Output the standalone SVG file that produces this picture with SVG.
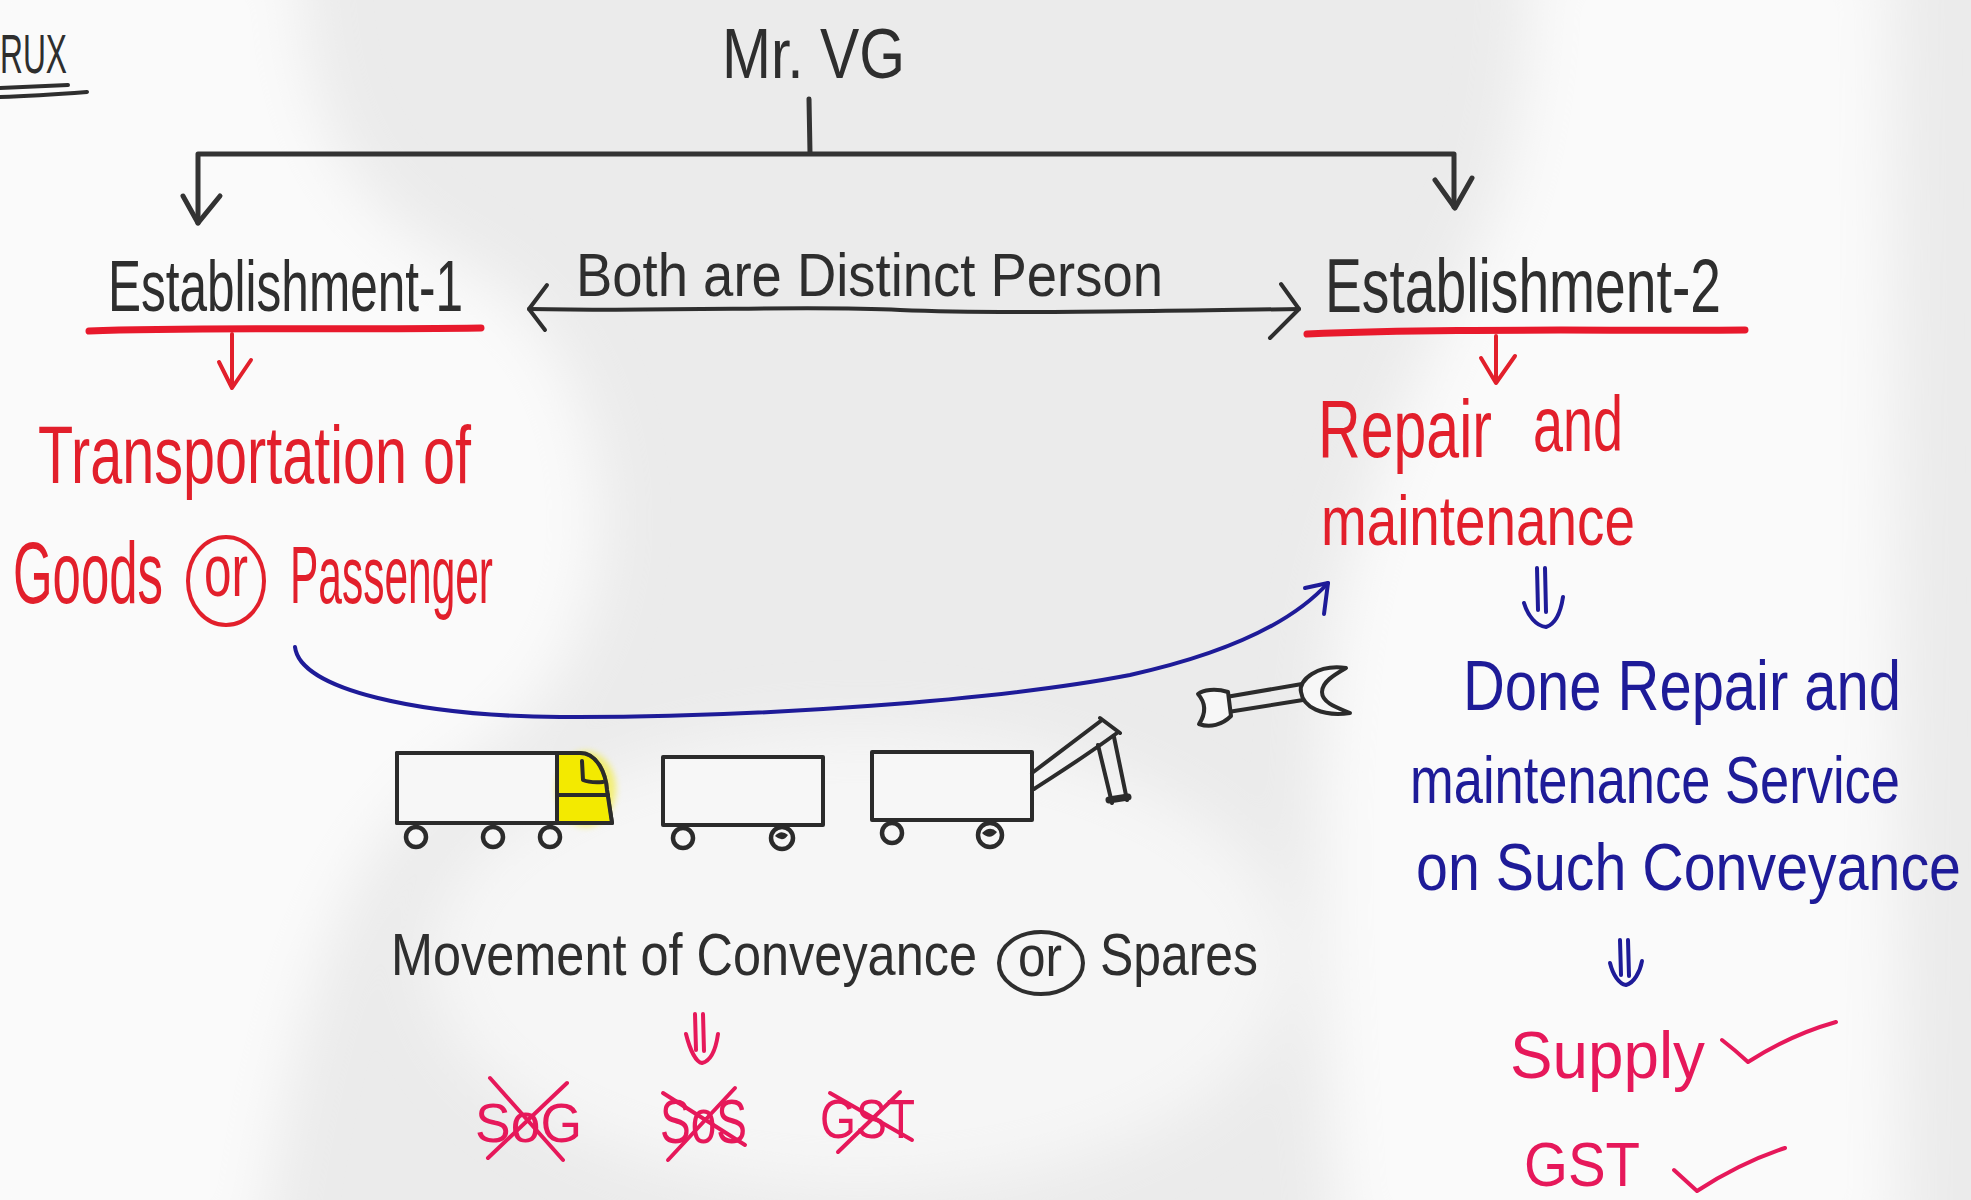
<svg xmlns="http://www.w3.org/2000/svg" width="1971" height="1200" viewBox="0 0 1971 1200">
  <defs>
    <filter id="soft" x="-20%" y="-20%" width="140%" height="140%">
      <feGaussianBlur stdDeviation="30"/>
    </filter>
    <filter id="glow" x="-30%" y="-30%" width="160%" height="160%">
      <feGaussianBlur stdDeviation="3"/>
    </filter>
    <style>
      text { font-family: 'Liberation Sans', Arial, sans-serif; }
      .ink { fill: #2e2e2e; }
      .red { fill: #e21f2b; }
      .pink { fill: #e6185a; }
      .blue { fill: #1e1b98; }
      .line { fill: none; stroke: #333333; stroke-width: 5; stroke-linecap: round; stroke-linejoin: round; }
      .thin { fill: none; stroke: #2e2e2e; stroke-width: 4; stroke-linecap: round; stroke-linejoin: round; }
      .rline { fill: none; stroke: #e21f2b; stroke-width: 4; stroke-linecap: round; stroke-linejoin: round; }
      .uline { fill: none; stroke: #e8192c; stroke-width: 7; stroke-linecap: round; }
      .pline { fill: none; stroke: #e6185a; stroke-width: 4; stroke-linecap: round; stroke-linejoin: round; }
      .bline { fill: none; stroke: #1e1b98; stroke-width: 4; stroke-linecap: round; stroke-linejoin: round; }
      .draw { fill: none; stroke: #2b2b2b; stroke-width: 4; stroke-linecap: round; stroke-linejoin: round; }
      .box { fill: #f7f7f7; stroke: #2b2b2b; stroke-width: 4; stroke-linejoin: round; }
      .wheel { fill: #f7f7f7; stroke: #2b2b2b; stroke-width: 4.5; }
    </style>
  </defs>

  <!-- soft backdrop -->
  <g id="backdrop">
    <rect width="1971" height="1200" fill="#ebebeb"/>
    <g filter="url(#soft)" fill="#fafafa">
      <path d="M-60,-60 L300,-60 C300,100 330,200 470,270 C560,320 600,420 600,520 C600,620 560,700 470,760 C360,830 300,950 260,1260 L-60,1260 Z"/>
      <path d="M1530,-60 L1890,-60 L1900,1260 L1340,1260 C1320,1000 1310,760 1340,600 C1370,460 1440,330 1500,200 C1520,120 1530,60 1530,-60 Z"/>
      <ellipse cx="860" cy="960" rx="430" ry="230" opacity="0.75"/>
    </g>
  </g>

  <!-- connectors -->
  <g id="connectors">
    <!-- Mr. VG branches to both establishments -->
    <path class="line" d="M809,99 L810,153"/>
    <path class="line" d="M198,223 L198,154 L1454,154 L1454,207"/>
    <path class="line" d="M183,196 L198,223 L220,196"/>
    <path class="line" d="M1435,180 L1455,208 L1472,178"/>
    <!-- distinct persons, two-way -->
    <path class="thin" d="M529,309 C700,312 800,305 900,310 C1000,314 1150,311 1299,309"/>
    <path class="thin" d="M547,285 L529,309 L545,330"/>
    <path class="thin" d="M1281,284 L1299,309 L1270,338"/>
    <!-- red underlines and drops -->
    <path class="uline" d="M89,331 C200,327 350,330 481,328"/>
    <path class="uline" d="M1307,334 C1450,328 1600,331 1745,330"/>
    <path class="rline" d="M232,334 L232,386"/>
    <path class="rline" d="M219,362 L232,388 L251,360"/>
    <path class="rline" d="M1496,336 L1496,381"/>
    <path class="rline" d="M1481,358 L1496,383 L1515,356"/>
    <!-- blue sweep from transport to repair -->
    <path class="bline" d="M295,647 C300,690 420,716 560,717 C760,718 1000,700 1130,675 C1220,655 1290,625 1328,583"/>
    <path class="bline" d="M1305,588 L1328,583 L1324,614"/>
    <!-- double-stroke down arrows -->
    <path class="bline" d="M1537,568 L1538,610 M1545,568 L1546,612 M1524,603 C1528,616 1536,626 1546,627 C1556,624 1561,610 1563,597"/>
    <path class="bline" d="M1620,940 L1621,975 M1628,940 L1629,976 M1610,963 C1613,975 1619,984 1626,985 C1634,983 1640,972 1642,961"/>
    <path class="pline" d="M695,1014 L696,1050 M703,1014 L704,1051 M686,1034 C690,1050 696,1062 702,1063 C711,1061 716,1048 718,1034"/>
  </g>

  <!-- heading fragment -->
  <g id="crux">
    <text class="ink" transform="translate(0,73) scale(1,1.74)" font-size="32" textLength="67" lengthAdjust="spacingAndGlyphs">RUX</text>
    <path class="thin" d="M0,88 C25,87 50,86 68,85 M0,97 C30,96 60,94 87,92"/>
  </g>

  <g id="mr-vg">
    <text class="ink" transform="translate(722,78) scale(1,1.21)" font-size="57.8" textLength="183" lengthAdjust="spacingAndGlyphs">Mr. VG</text>
  </g>

  <g id="establishment-1">
    <text class="ink" transform="translate(108,311) scale(1,1.46)" font-size="49.5" textLength="355" lengthAdjust="spacingAndGlyphs">Establishment-1</text>
  </g>

  <g id="distinct-label">
    <text class="ink" transform="translate(576,296) scale(1,1.12)" font-size="54.4" textLength="587" lengthAdjust="spacingAndGlyphs">Both are Distinct Person</text>
  </g>

  <g id="establishment-2">
    <text class="ink" transform="translate(1325,312) scale(1,1.39)" font-size="55.2" textLength="396" lengthAdjust="spacingAndGlyphs">Establishment-2</text>
  </g>

  <g id="transport">
    <text class="red" transform="translate(38,483) scale(1,1.42)" font-size="57.3" textLength="433" lengthAdjust="spacingAndGlyphs">Transportation of</text>
    <text class="red" transform="translate(13,603) scale(1,1.7)" font-size="50.9" textLength="150" lengthAdjust="spacingAndGlyphs">Goods</text>
    <ellipse class="rline" cx="226" cy="581" rx="38" ry="44"/>
    <text class="red" transform="translate(226,596) scale(1,1.5)" font-size="49.5" text-anchor="middle" textLength="44" lengthAdjust="spacingAndGlyphs">or</text>
    <text class="red" transform="translate(290,603) scale(1,1.9)" font-size="42.5" textLength="203" lengthAdjust="spacingAndGlyphs">Passenger</text>
  </g>

  <g id="repair">
    <text class="red" transform="translate(1318,457) scale(1,1.39)" font-size="59.1" textLength="174" lengthAdjust="spacingAndGlyphs">Repair</text>
    <text class="red" transform="translate(1533,451) scale(1,1.45)" font-size="54" textLength="90" lengthAdjust="spacingAndGlyphs">and</text>
    <text class="red" transform="translate(1321,545) scale(1,1.3)" font-size="54.8" textLength="314" lengthAdjust="spacingAndGlyphs">maintenance</text>
  </g>

  <g id="done-repair">
    <text class="blue" transform="translate(1463,710) scale(1,1.2)" font-size="57.9" textLength="438" lengthAdjust="spacingAndGlyphs">Done Repair and</text>
    <text class="blue" transform="translate(1410,803) scale(1,1.28)" font-size="52.5" textLength="490" lengthAdjust="spacingAndGlyphs">maintenance Service</text>
    <text class="blue" transform="translate(1416,890) scale(1,1.15)" font-size="57.3" textLength="545" lengthAdjust="spacingAndGlyphs">on Such Conveyance</text>
  </g>

  <g id="supply">
    <text class="pink" transform="translate(1510,1078) scale(1,1.05)" font-size="63.8" textLength="195" lengthAdjust="spacingAndGlyphs">Supply</text>
    <path class="pline" d="M1722,1040 Q1735,1050 1748,1062 Q1790,1035 1836,1022"/>
  </g>

  <g id="gst">
    <text class="pink" transform="translate(1524,1186) scale(1,1.1)" font-size="56.4" textLength="116" lengthAdjust="spacingAndGlyphs">GST</text>
    <path class="pline" d="M1674,1170 L1697,1191 Q1740,1163 1785,1148"/>
  </g>

  <!-- vehicles -->
  <g id="vehicles">
    <path class="box" d="M397,753 L580,753 C598,753 606,775 607,790 L612,823 L397,823 Z"/>
    <ellipse cx="586" cy="789" rx="30" ry="38" fill="#f3ea00" opacity="0.5" filter="url(#glow)"/>
    <path d="M557,755 L580,755 C597,755 604,775 605,790 L610,821 L557,821 Z" fill="#f3ea00"/>
    <path class="draw" d="M397,753 L580,753 C598,753 606,775 607,790 L612,823 L397,823 Z"/>
    <path class="draw" d="M557,754 L557,822 M557,795 L608,795 M582,761 L583,780 Q590,783 603,782"/>
    <circle class="wheel" cx="416" cy="837" r="10"/>
    <circle class="wheel" cx="493" cy="837" r="10"/>
    <circle class="wheel" cx="550" cy="837" r="10"/>

    <rect class="box" x="663" y="757" width="160" height="68"/>
    <circle class="wheel" cx="683" cy="838" r="10"/>
    <circle class="wheel" cx="782" cy="838" r="11"/>
    <path d="M775,836 Q781,829 788,835 Q783,843 775,836 Z" fill="#2b2b2b"/>

    <rect class="box" x="872" y="752" width="160" height="68"/>
    <circle class="wheel" cx="892" cy="833" r="10"/>
    <circle class="wheel" cx="990" cy="835" r="12"/>
    <path d="M982,833 Q990,825 997,832 Q990,841 982,833 Z" fill="#2b2b2b"/>
    <path class="draw" d="M1032,773 L1102,720 M1034,789 C1060,772 1080,760 1117,733 M1100,718 L1120,733"/>
    <path class="draw" d="M1098,745 L1112,803 M1114,737 L1127,800"/>
    <path d="M1109,800 L1128,797" stroke="#2b2b2b" stroke-width="7" stroke-linecap="round"/>
  </g>

  <g id="wrench">
    <path class="draw" d="M1226,697 L1302,684 M1228,712 L1303,700"/>
    <path class="box" d="M1346,668 C1318,664 1298,680 1301,692 C1303,707 1322,717 1350,713 C1338,708 1322,703 1322,692 C1322,682 1334,675 1346,668 Z"/>
    <path class="box" d="M1228,692 C1215,688 1203,690 1198,694 C1205,702 1207,712 1199,724 C1210,728 1222,725 1231,716 Z"/>
  </g>

  <g id="movement">
    <text class="ink" transform="translate(391,975) scale(1,1.16)" font-size="50.4" textLength="586" lengthAdjust="spacingAndGlyphs">Movement of Conveyance</text>
    <ellipse class="thin" cx="1041" cy="963" rx="42" ry="31"/>
    <text class="ink" transform="translate(1040,976) scale(1,1.15)" font-size="49.5" text-anchor="middle" textLength="44" lengthAdjust="spacingAndGlyphs">or</text>
    <text class="ink" transform="translate(1100,975) scale(1,1.18)" font-size="49.9" textLength="158" lengthAdjust="spacingAndGlyphs">Spares</text>
  </g>

  <!-- struck-out taxes -->
  <g id="taxes">
    <text class="pink" transform="translate(475,1142) scale(1,1.05)" font-size="53.5" textLength="107" lengthAdjust="spacingAndGlyphs">SoG</text>
    <path class="pline" d="M490,1078 L563,1160 M567,1083 L488,1158"/>
    <text class="pink" transform="translate(660,1143) scale(1,1.36)" font-size="46" textLength="87" lengthAdjust="spacingAndGlyphs">SoS</text>
    <path class="pline" d="M663,1093 L745,1145 M735,1088 L668,1160"/>
    <text class="pink" transform="translate(820,1138) scale(1,1.2)" font-size="46.2" textLength="95" lengthAdjust="spacingAndGlyphs">GST</text>
    <path class="pline" d="M830,1093 L912,1140 M900,1092 L838,1152"/>
  </g>
</svg>
